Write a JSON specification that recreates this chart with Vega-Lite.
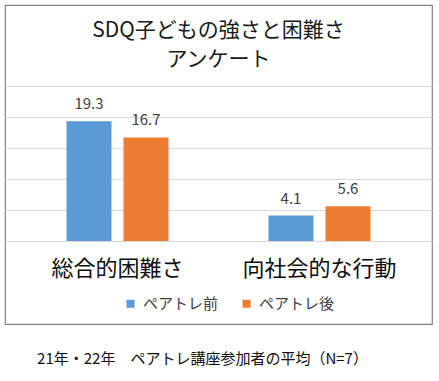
{
  "$schema": "https://vega.github.io/schema/vega-lite/v6.json",
  "width": 427,
  "height": 319,
  "autosize": {"type": "none"},
  "padding": {"left": 5, "top": 5, "right": 7, "bottom": 57},
  "background": "white",
  "config": {
    "font": "Noto Sans CJK JP",
    "view": {"stroke": "#808080", "strokeWidth": 1.2}
  },
  "title": {
    "text": ["SDQ子どもの強さと困難さ", "アンケート"],
    "fontSize": 21,
    "fontWeight": "normal",
    "color": "#1a1a1a",
    "offset": -65,
    "lineHeight": 29,
    "anchor": "middle"
  },
  "data": {
    "values": [
      {"category": "総合的困難さ", "series": "ペアトレ前", "value": 19.3},
      {"category": "総合的困難さ", "series": "ペアトレ後", "value": 16.7},
      {"category": "向社会的な行動", "series": "ペアトレ前", "value": 4.1},
      {"category": "向社会的な行動", "series": "ペアトレ後", "value": 5.6}
    ]
  },
  "encoding": {
    "x": {
      "field": "category",
      "type": "nominal",
      "sort": ["総合的困難さ", "向社会的な行動"],
      "scale": {"paddingInner": 0, "paddingOuter": 0.057},
      "axis": {
        "title": "21年・22年　ペアトレ講座参加者の平均（N=7）",
        "orient": "bottom",
        "offset": -83,
        "domain": false,
        "ticks": false,
        "labelFontSize": 22,
        "labelColor": "#0d0d0d",
        "labelPadding": 17,
        "labelAngle": 0,
        "titleFontSize": 15,
        "titleFontWeight": "normal",
        "titleColor": "#0d0d0d",
        "titleX": 197,
        "titleY": 110,
        "titleAlign": "center",
        "titleBaseline": "top"
      }
    },
    "xOffset": {
      "field": "series",
      "type": "nominal",
      "sort": ["ペアトレ前", "ペアトレ後"],
      "scale": {"paddingInner": 0.2105, "paddingOuter": 0.877}
    },
    "y": {
      "field": "value",
      "type": "quantitative",
      "scale": {"domain": [-13.39, 38.06], "nice": false, "zero": false},
      "axis": {
        "values": [0, 5, 10, 15, 20, 25],
        "labels": false,
        "ticks": false,
        "domain": false,
        "title": null,
        "grid": true,
        "gridColor": "#d9d9d9",
        "gridWidth": 1
      }
    }
  },
  "layer": [
    {
      "mark": {"type": "bar"},
      "encoding": {
        "color": {
          "field": "series",
          "type": "nominal",
          "scale": {"domain": ["ペアトレ前", "ペアトレ後"], "range": ["#5B9BD5", "#ED7D31"]},
          "legend": {
            "title": null,
            "orient": "none",
            "legendX": 118,
            "legendY": 291,
            "direction": "horizontal",
            "symbolType": "square",
            "symbolSize": 64,
            "symbolStrokeWidth": 0,
            "labelFontSize": 15,
            "labelColor": "#404040",
            "columnPadding": 20,
            "labelOffset": 5
          }
        }
      }
    },
    {
      "mark": {"type": "text", "dy": -9, "baseline": "bottom", "fontSize": 15, "color": "#404040"},
      "encoding": {"text": {"field": "value", "type": "quantitative", "format": ".1f"}}
    }
  ]
}
